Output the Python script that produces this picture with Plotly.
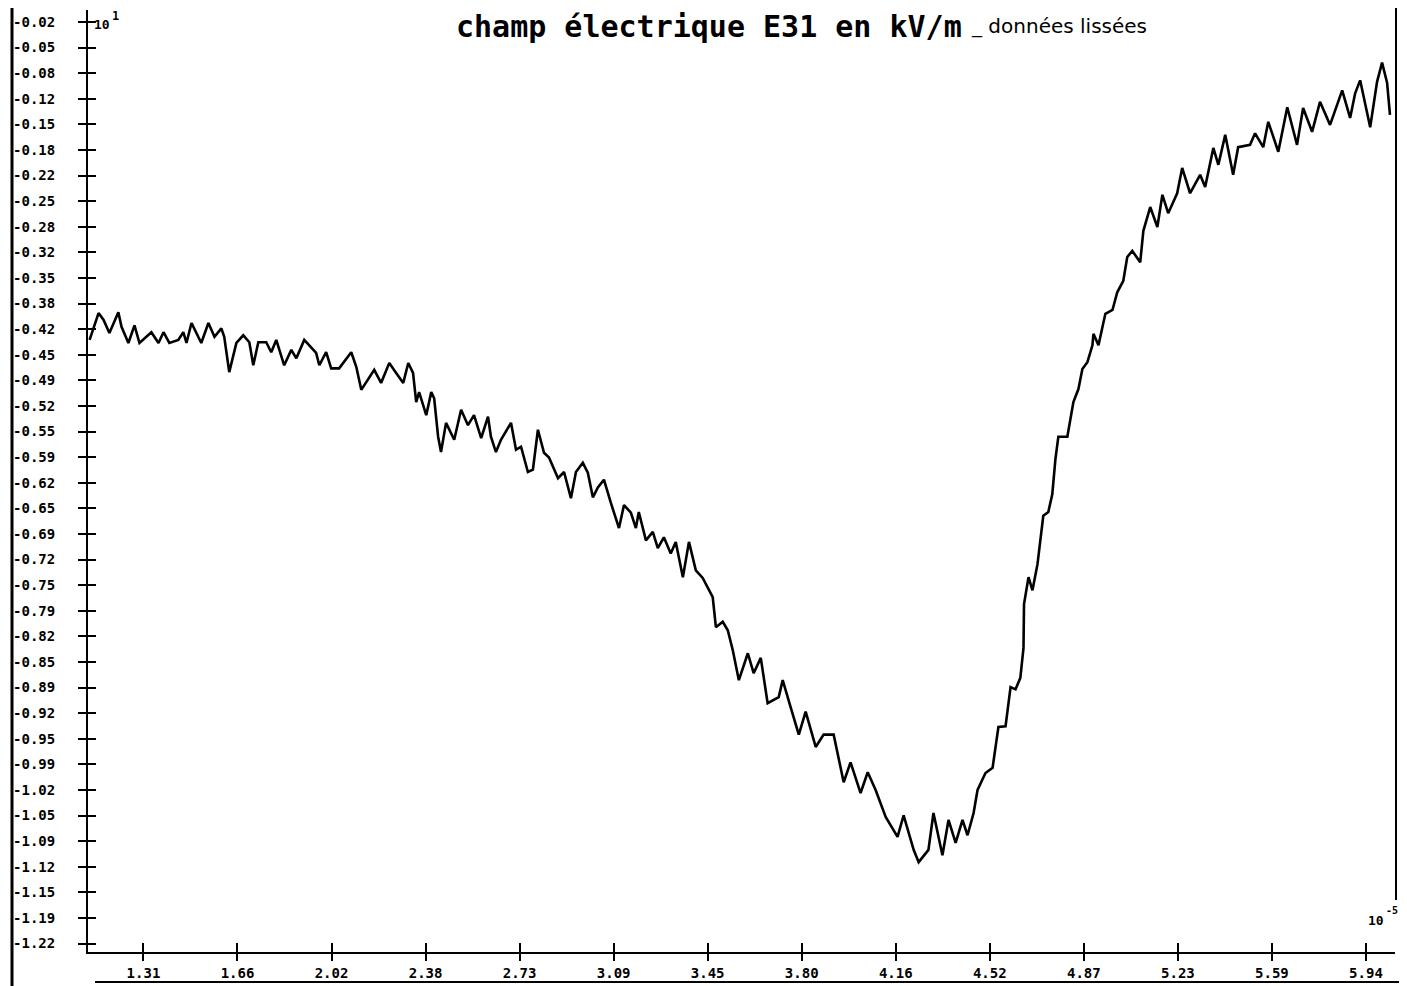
import numpy as np
import plotly.graph_objects as go

# ---- data (x in units of 10^-5, E31 in units of 10^1 kV/m) ----
x_vals = [
    1.106, 1.140, 1.159, 1.181, 1.215, 1.227, 1.253, 1.276, 1.295, 1.340,
    1.367, 1.386, 1.408, 1.442, 1.461, 1.473, 1.492, 1.518, 1.529, 1.556,
    1.579, 1.605, 1.616, 1.635, 1.662, 1.688, 1.711, 1.726, 1.745, 1.775,
    1.794, 1.813, 1.843, 1.870, 1.889, 1.919, 1.964, 1.976, 2.002, 2.021,
    2.051, 2.097, 2.116, 2.135, 2.154, 2.184, 2.210, 2.241, 2.267, 2.294,
    2.313, 2.331, 2.343, 2.354, 2.381, 2.400, 2.411, 2.426, 2.437, 2.456,
    2.487, 2.513, 2.539, 2.562, 2.589, 2.615, 2.626, 2.645, 2.664, 2.691,
    2.702, 2.721, 2.740, 2.766, 2.785, 2.804, 2.827, 2.846, 2.880, 2.903,
    2.929, 2.948, 2.974, 2.993, 3.012, 3.031, 3.054, 3.080, 3.111, 3.130,
    3.156, 3.175, 3.186, 3.213, 3.239, 3.258, 3.281, 3.307, 3.326, 3.353,
    3.376, 3.402, 3.428, 3.466, 3.478, 3.504, 3.523, 3.542, 3.565, 3.599,
    3.621, 3.648, 3.674, 3.716, 3.731, 3.761, 3.792, 3.818, 3.856, 3.886,
    3.924, 3.962, 3.988, 4.026, 4.053, 4.083, 4.121, 4.166, 4.189, 4.227,
    4.246, 4.283, 4.302, 4.336, 4.359, 4.386, 4.412, 4.431, 4.454, 4.469,
    4.499, 4.526, 4.548, 4.575, 4.594, 4.613, 4.631, 4.643, 4.645, 4.662,
    4.677, 4.696, 4.707, 4.718, 4.737, 4.752, 4.764, 4.775, 4.809, 4.821,
    4.832, 4.851, 4.866, 4.885, 4.904, 4.908, 4.927, 4.953, 4.980, 4.998,
    5.021, 5.036, 5.055, 5.085, 5.097, 5.123, 5.150, 5.169, 5.191, 5.225,
    5.244, 5.274, 5.312, 5.331, 5.362, 5.381, 5.407, 5.437, 5.456, 5.501,
    5.520, 5.551, 5.570, 5.608, 5.642, 5.679, 5.702, 5.736, 5.766, 5.804,
    5.850, 5.880, 5.899, 5.918, 5.956, 5.982, 6.001, 6.020, 6.031,
]
e31_vals = [
    -0.434, -0.399, -0.408, -0.425, -0.398, -0.417, -0.438, -0.415, -0.438, -0.424,
    -0.438, -0.424, -0.438, -0.434, -0.424, -0.438, -0.412, -0.430, -0.438, -0.412,
    -0.430, -0.419, -0.430, -0.476, -0.438, -0.428, -0.437, -0.467, -0.437, -0.437,
    -0.450, -0.434, -0.467, -0.447, -0.458, -0.434, -0.451, -0.467, -0.450, -0.471,
    -0.471, -0.450, -0.469, -0.499, -0.489, -0.473, -0.490, -0.464, -0.477, -0.490,
    -0.464, -0.477, -0.515, -0.502, -0.532, -0.502, -0.510, -0.560, -0.580, -0.542,
    -0.564, -0.525, -0.545, -0.532, -0.562, -0.534, -0.560, -0.580, -0.564, -0.549,
    -0.542, -0.577, -0.573, -0.606, -0.603, -0.551, -0.581, -0.587, -0.614, -0.606,
    -0.640, -0.606, -0.594, -0.607, -0.639, -0.626, -0.616, -0.646, -0.679, -0.649,
    -0.659, -0.679, -0.658, -0.695, -0.684, -0.705, -0.691, -0.712, -0.697, -0.743,
    -0.697, -0.734, -0.744, -0.769, -0.808, -0.801, -0.812, -0.838, -0.877, -0.842,
    -0.868, -0.848, -0.907, -0.899, -0.877, -0.912, -0.948, -0.918, -0.964, -0.948,
    -0.948, -1.010, -0.984, -1.024, -0.997, -1.020, -1.055, -1.081, -1.053, -1.098,
    -1.114, -1.098, -1.050, -1.105, -1.059, -1.089, -1.059, -1.079, -1.050, -1.020,
    -0.998, -0.991, -0.938, -0.937, -0.886, -0.889, -0.874, -0.835, -0.778, -0.743,
    -0.760, -0.726, -0.697, -0.663, -0.658, -0.635, -0.589, -0.560, -0.560, -0.537,
    -0.515, -0.498, -0.472, -0.463, -0.441, -0.426, -0.441, -0.400, -0.395, -0.372,
    -0.357, -0.326, -0.318, -0.333, -0.292, -0.261, -0.287, -0.245, -0.269, -0.243,
    -0.210, -0.243, -0.219, -0.235, -0.184, -0.206, -0.167, -0.219, -0.183, -0.180,
    -0.165, -0.183, -0.150, -0.189, -0.131, -0.180, -0.132, -0.163, -0.124, -0.154,
    -0.109, -0.145, -0.113, -0.096, -0.157, -0.098, -0.073, -0.099, -0.141,
]

x_tick_labels = ["1.31", "1.66", "2.02", "2.38", "2.73", "3.09", "3.45",
                 "3.80", "4.16", "4.52", "4.87", "5.23", "5.59", "5.94"]
y_tick_labels = ["-0.02", "-0.05", "-0.08", "-0.12", "-0.15", "-0.18", "-0.22",
                 "-0.25", "-0.28", "-0.32", "-0.35", "-0.38", "-0.42", "-0.45",
                 "-0.49", "-0.52", "-0.55", "-0.59", "-0.62", "-0.65", "-0.69",
                 "-0.72", "-0.75", "-0.79", "-0.82", "-0.85", "-0.89", "-0.92",
                 "-0.95", "-0.99", "-1.02", "-1.05", "-1.09", "-1.12", "-1.15",
                 "-1.19", "-1.22"]

title_main = "champ électrique E31 en kV/m"
title_note = "_ données lissées"

x_tickvals = list(np.linspace(1.31, 5.94, len(x_tick_labels)))
y_tickvals = list(np.linspace(-0.02, -1.22, len(y_tick_labels)))

X_RANGE = [1.10, 6.05]
Y_RANGE = [-1.231, -0.0044]

MONO = "DejaVu Sans Mono"
# the page body adds an 8 px margin, so the figure is 8 px smaller than the window
OFF = 8
W, H = 1407 - OFF, 986 - OFF
ML, MR, MT, MB = 88 - OFF, 12, 10 - OFF, 34
PW, PH = W - ML - MR, H - MT - MB


def px(xp):
    """window pixel x -> paper fraction"""
    return (xp - OFF - ML) / PW


def py(yp):
    """window pixel y -> paper fraction"""
    return (H - MB - (yp - OFF)) / PH


fig = go.Figure()
fig.add_trace(go.Scatter(
    x=x_vals, y=e31_vals, mode="lines",
    line=dict(color="black", width=2.6),
    showlegend=False, hoverinfo="skip",
))
# helper (empty) trace so the overlay axes with inner tick halves are drawn
fig.add_trace(go.Scatter(x=[], y=[], xaxis="x2", yaxis="y2", showlegend=False))

fig.update_layout(
    width=W, height=H,
    margin=dict(l=ML, r=MR, t=MT, b=MB, autoexpand=False),
    paper_bgcolor="white", plot_bgcolor="white",
    xaxis=dict(range=X_RANGE, tickvals=x_tickvals, ticktext=x_tick_labels,
               ticks="outside", ticklen=7, tickwidth=2, tickcolor="black",
               showline=True, linewidth=2, linecolor="black",
               showgrid=False, zeroline=False, automargin=False,
               tickfont=dict(family=MONO, size=14, color="black", weight="bold"),
               ticklabelstandoff=0),
    yaxis=dict(range=Y_RANGE, tickvals=y_tickvals, ticktext=y_tick_labels,
               ticks="outside", ticklen=8, tickwidth=2, tickcolor="black",
               showline=True, linewidth=2, linecolor="black",
               showgrid=False, zeroline=False, automargin=False,
               tickfont=dict(family=MONO, size=14, color="black", weight="bold"),
               ticklabelstandoff=20),
    xaxis2=dict(range=X_RANGE, overlaying="x", anchor="y2", side="bottom",
                tickvals=x_tickvals, showticklabels=False, automargin=False,
                ticks="inside", ticklen=9, tickwidth=2, tickcolor="black",
                showline=False, showgrid=False, zeroline=False),
    yaxis2=dict(range=Y_RANGE, overlaying="y", anchor="x2", side="left",
                tickvals=y_tickvals, showticklabels=False, automargin=False,
                ticks="inside", ticklen=8, tickwidth=2, tickcolor="black",
                showline=False, showgrid=False, zeroline=False),
)

# page edge lines from the scanned sheet
fig.add_shape(type="line", xref="paper", yref="paper",
              x0=px(12), x1=px(12), y0=py(986), y1=py(8),
              line=dict(color="black", width=3))
fig.add_shape(type="line", xref="paper", yref="paper",
              x0=px(1396), x1=px(1396), y0=py(900), y1=py(8),
              line=dict(color="black", width=2))
fig.add_shape(type="line", xref="paper", yref="paper",
              x0=px(95), x1=px(1407), y0=py(982), y1=py(982),
              line=dict(color="black", width=2))

# titles (box top placed at the top edge of the figure so nothing is clipped)
fig.add_annotation(text="<b>" + title_main + "</b>", xref="paper", yref="paper",
                   x=px(709), y=py(8), xanchor="center", yanchor="top",
                   showarrow=False, borderpad=0,
                   font=dict(family=MONO, size=30, color="black"))
fig.add_annotation(text=title_note, xref="paper", yref="paper",
                   x=px(970), y=py(13), xanchor="left", yanchor="top",
                   showarrow=False, borderpad=0,
                   font=dict(family="DejaVu Sans", size=20, color="black"))

# axis scale factors
fig.add_annotation(text="<b>10</b>", xref="paper", yref="paper",
                   x=px(92), y=py(25), xanchor="left", yanchor="middle",
                   showarrow=False, font=dict(family=MONO, size=13, color="black"))
fig.add_annotation(text="<b>1</b>", xref="paper", yref="paper",
                   x=px(110), y=py(16), xanchor="left", yanchor="middle",
                   showarrow=False, font=dict(family=MONO, size=12, color="black"))
fig.add_annotation(text="<b>10</b>", xref="paper", yref="paper",
                   x=px(1366), y=py(920), xanchor="left", yanchor="middle",
                   showarrow=False, font=dict(family=MONO, size=13, color="black"))
fig.add_annotation(text="<b>-5</b>", xref="paper", yref="paper",
                   x=px(1384), y=py(910), xanchor="left", yanchor="middle",
                   showarrow=False, font=dict(family=MONO, size=10, color="black"))

fig.write_html("out.html")
